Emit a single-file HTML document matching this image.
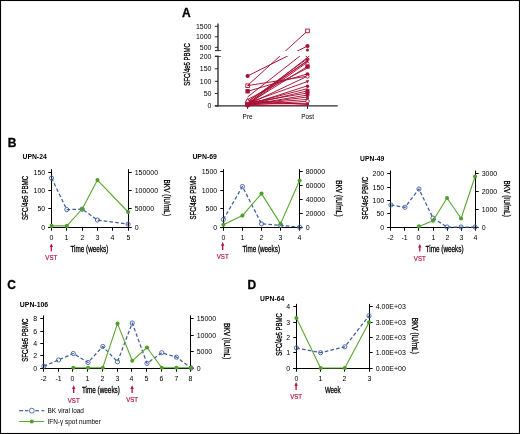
<!DOCTYPE html>
<html><head><meta charset="utf-8"><style>
html,body{margin:0;padding:0;background:#fff;}
body{width:520px;height:434px;overflow:hidden;}
svg{display:block;will-change:transform;}
text{font-family:"Liberation Sans", sans-serif;}
</style></head><body>
<svg width="520" height="434" viewBox="0 0 520 434" font-family='"Liberation Sans", sans-serif'>
<rect x="0" y="0" width="520" height="434" fill="#fff"/>
<rect x="0.5" y="0.5" width="519" height="433" fill="none" stroke="#000" stroke-width="1.1"/>
<text x="182" y="16.6" font-size="12" text-anchor="start" fill="#000" font-weight="bold" stroke="#000" stroke-width="0.3">A</text>
<text x="7.8" y="146.9" font-size="12" text-anchor="start" fill="#000" font-weight="bold" stroke="#000" stroke-width="0.3">B</text>
<text x="7.3" y="288.6" font-size="12" text-anchor="start" fill="#000" font-weight="bold" stroke="#000" stroke-width="0.3">C</text>
<text x="247.6" y="289.2" font-size="12" text-anchor="start" fill="#000" font-weight="bold" stroke="#000" stroke-width="0.3">D</text>
<line x1="218" y1="23.5" x2="218" y2="50.6" stroke="#2a2a2a" stroke-width="1.35" />
<line x1="215" y1="50.6" x2="221" y2="50.6" stroke="#2a2a2a" stroke-width="1.1" />
<line x1="218" y1="56.3" x2="218" y2="106.4" stroke="#2a2a2a" stroke-width="1.35" />
<line x1="215" y1="56.3" x2="221" y2="56.3" stroke="#2a2a2a" stroke-width="1.1" />
<line x1="214.8" y1="105.9" x2="337.7" y2="105.9" stroke="#2a2a2a" stroke-width="1.3" />
<line x1="214.8" y1="26.3" x2="218" y2="26.3" stroke="#2a2a2a" stroke-width="1" />
<text x="211.5" y="28.8" font-size="7" text-anchor="end" fill="#000" textLength="15.57" lengthAdjust="spacingAndGlyphs" >1500</text>
<line x1="214.8" y1="36.8" x2="218" y2="36.8" stroke="#2a2a2a" stroke-width="1" />
<text x="211.5" y="39.3" font-size="7" text-anchor="end" fill="#000" textLength="15.57" lengthAdjust="spacingAndGlyphs" >1000</text>
<line x1="214.8" y1="47.3" x2="218" y2="47.3" stroke="#2a2a2a" stroke-width="1" />
<text x="211.5" y="49.8" font-size="7" text-anchor="end" fill="#000" textLength="11.68" lengthAdjust="spacingAndGlyphs" >500</text>
<line x1="214.8" y1="56.3" x2="218" y2="56.3" stroke="#2a2a2a" stroke-width="1" />
<text x="211.5" y="58.8" font-size="7" text-anchor="end" fill="#000" textLength="11.68" lengthAdjust="spacingAndGlyphs" >200</text>
<line x1="214.8" y1="68.8" x2="218" y2="68.8" stroke="#2a2a2a" stroke-width="1" />
<text x="211.5" y="71.3" font-size="7" text-anchor="end" fill="#000" textLength="11.68" lengthAdjust="spacingAndGlyphs" >150</text>
<line x1="214.8" y1="81.3" x2="218" y2="81.3" stroke="#2a2a2a" stroke-width="1" />
<text x="211.5" y="83.8" font-size="7" text-anchor="end" fill="#000" textLength="11.68" lengthAdjust="spacingAndGlyphs" >100</text>
<line x1="214.8" y1="93.5" x2="218" y2="93.5" stroke="#2a2a2a" stroke-width="1" />
<text x="211.5" y="96" font-size="7" text-anchor="end" fill="#000" textLength="7.79" lengthAdjust="spacingAndGlyphs" >50</text>
<line x1="214.8" y1="105.9" x2="218" y2="105.9" stroke="#2a2a2a" stroke-width="1" />
<text x="211.5" y="108.4" font-size="7" text-anchor="end" fill="#000" textLength="3.89" lengthAdjust="spacingAndGlyphs" >0</text>
<line x1="247.6" y1="105.9" x2="247.6" y2="109" stroke="#2a2a2a" stroke-width="1" />
<line x1="307.5" y1="105.9" x2="307.5" y2="109" stroke="#2a2a2a" stroke-width="1" />
<text x="247.6" y="118.7" font-size="7" text-anchor="middle" fill="#000" textLength="10" lengthAdjust="spacingAndGlyphs" >Pre</text>
<text x="307.7" y="118.7" font-size="7" text-anchor="middle" fill="#000" textLength="12.8" lengthAdjust="spacingAndGlyphs" >Post</text>
<text x="189.9" y="64.4" font-size="9" text-anchor="middle" fill="#000" textLength="42.5" lengthAdjust="spacingAndGlyphs" transform="rotate(-90 189.9 64.4)" stroke="#000" stroke-width="0.3">SFC/4e5 PBMC</text>
<g>
<line x1="247.6" y1="85.5" x2="307.5" y2="30.9" stroke="#a80f35" stroke-width="0.95" />
<line x1="247.6" y1="76" x2="307.5" y2="46" stroke="#a80f35" stroke-width="0.95" />
<line x1="247.6" y1="97" x2="307.5" y2="50.1" stroke="#a80f35" stroke-width="0.95" />
<line x1="247.6" y1="104" x2="307.5" y2="57.5" stroke="#a80f35" stroke-width="0.95" />
<line x1="247.6" y1="102" x2="307.5" y2="58.6" stroke="#a80f35" stroke-width="0.95" />
<line x1="247.6" y1="103.5" x2="307.5" y2="60.5" stroke="#a80f35" stroke-width="0.95" />
<line x1="247.6" y1="101.5" x2="307.5" y2="61" stroke="#a80f35" stroke-width="0.95" />
<line x1="247.6" y1="104.5" x2="307.5" y2="62.2" stroke="#a80f35" stroke-width="0.95" />
<line x1="247.6" y1="104" x2="307.5" y2="66.4" stroke="#a80f35" stroke-width="0.95" />
<line x1="247.6" y1="99.5" x2="307.5" y2="68" stroke="#a80f35" stroke-width="0.95" />
<line x1="247.6" y1="91.3" x2="307.5" y2="73.9" stroke="#a80f35" stroke-width="0.95" />
<line x1="247.6" y1="104.5" x2="307.5" y2="76.2" stroke="#a80f35" stroke-width="0.95" />
<line x1="247.6" y1="85.6" x2="307.5" y2="76.2" stroke="#a80f35" stroke-width="0.95" />
<line x1="247.6" y1="103" x2="307.5" y2="81.5" stroke="#a80f35" stroke-width="0.95" />
<line x1="247.6" y1="105" x2="307.5" y2="85.8" stroke="#a80f35" stroke-width="0.95" />
<line x1="247.6" y1="104" x2="307.5" y2="88.6" stroke="#a80f35" stroke-width="0.95" />
<line x1="247.6" y1="105" x2="307.5" y2="90.8" stroke="#a80f35" stroke-width="0.95" />
<line x1="247.6" y1="103" x2="307.5" y2="93" stroke="#a80f35" stroke-width="0.95" />
<line x1="247.6" y1="105" x2="307.5" y2="95" stroke="#a80f35" stroke-width="0.95" />
<line x1="247.6" y1="104.5" x2="307.5" y2="97" stroke="#a80f35" stroke-width="0.95" />
<line x1="247.6" y1="104" x2="307.5" y2="99.4" stroke="#a80f35" stroke-width="0.95" />
<line x1="247.6" y1="105" x2="307.5" y2="101.3" stroke="#a80f35" stroke-width="0.95" />
<line x1="247.6" y1="104" x2="307.5" y2="103.3" stroke="#a80f35" stroke-width="0.95" />
<line x1="247.6" y1="105.5" x2="307.5" y2="105.2" stroke="#a80f35" stroke-width="0.95" />
<line x1="247.6" y1="100.5" x2="307.5" y2="104.5" stroke="#a80f35" stroke-width="0.95" />
</g>
<rect x="219.0" y="50.9" width="100" height="5.2" fill="#fff"/>
<circle cx="247.6" cy="76" r="2.1" fill="#a80f35"/>
<rect x="245.8" y="83.9" width="3.6" height="3.6" fill="none" stroke="#a80f35" stroke-width="0.9"/>
<rect x="245.9" y="89.6" width="3.4" height="3.4" fill="#a80f35" stroke="#a80f35" stroke-width="0.9"/>
<circle cx="247.6" cy="103.5" r="2.3" fill="#a80f35"/>
<rect x="245.8" y="102.7" width="3.6" height="3.6" fill="#a80f35" stroke="#a80f35" stroke-width="0.9"/>
<circle cx="247.6" cy="105.2" r="2.4" fill="#a80f35"/>
<path d="M245.3 102.3 L249.9 102.3 L247.6 98.4 Z" fill="#fff" stroke="#a80f35" stroke-width="1"/>
<rect x="305.7" y="29.1" width="3.6" height="3.6" fill="#fff" stroke="#a80f35" stroke-width="0.9"/>
<circle cx="307.5" cy="46" r="2.1" fill="#a80f35"/>
<circle cx="307.5" cy="50.1" r="1.5" fill="#a80f35"/>
<path d="M305.7 55.9 L309.3 59.5 M305.7 59.5 L309.3 55.9" stroke="#a80f35" stroke-width="1"/>
<path d="M305.5 58.6 L309.5 58.6 L307.5 62.2 Z" fill="#a80f35"/>
<path d="M305.9 60.2 L309.1 63.4 M305.9 63.4 L309.1 60.2" stroke="#a80f35" stroke-width="1"/>
<rect x="305.8" y="64.8" width="3.4" height="3.4" fill="#a80f35" stroke="#a80f35" stroke-width="0.9"/>
<circle cx="307.5" cy="74.2" r="2" fill="#a80f35"/>
<circle cx="307.5" cy="76.6" r="1.6" fill="#fff" stroke="#a80f35" stroke-width="0.9"/>
<path d="M305.7 80.36 L309.3 80.36 L307.5 83.6 Z" fill="#a80f35"/>
<circle cx="307.5" cy="86.2" r="1.7" fill="#a80f35"/>
<rect x="306" y="89.5" width="3" height="3" fill="#a80f35" stroke="#a80f35" stroke-width="0.9"/>
<rect x="306" y="92.1" width="3" height="3" fill="#a80f35" stroke="#a80f35" stroke-width="0.9"/>
<circle cx="307.5" cy="95.6" r="1.7" fill="#a80f35"/>
<circle cx="307.5" cy="101.2" r="1.8" fill="#fff" stroke="#a80f35" stroke-width="0.9"/>
<circle cx="307.5" cy="98" r="1.5" fill="#a80f35"/>
<circle cx="307.5" cy="104" r="1.6" fill="#a80f35"/>
<line x1="51.5" y1="169.2" x2="51.5" y2="228" stroke="#000" stroke-width="1" />
<line x1="128.5" y1="169.2" x2="128.5" y2="228" stroke="#000" stroke-width="1" />
<line x1="48.3" y1="227.5" x2="129" y2="227.5" stroke="#000" stroke-width="1" />
<line x1="48.3" y1="227.5" x2="51.5" y2="227.5" stroke="#000" stroke-width="1" />
<text x="45.2" y="230" font-size="7" text-anchor="end" fill="#000" textLength="3.89" lengthAdjust="spacingAndGlyphs" >0</text>
<line x1="48.3" y1="208.5" x2="51.5" y2="208.5" stroke="#000" stroke-width="1" />
<text x="45.2" y="211" font-size="7" text-anchor="end" fill="#000" textLength="7.79" lengthAdjust="spacingAndGlyphs" >50</text>
<line x1="48.3" y1="190.5" x2="51.5" y2="190.5" stroke="#000" stroke-width="1" />
<text x="45.2" y="193" font-size="7" text-anchor="end" fill="#000" textLength="11.68" lengthAdjust="spacingAndGlyphs" >100</text>
<line x1="48.3" y1="172.5" x2="51.5" y2="172.5" stroke="#000" stroke-width="1" />
<text x="45.2" y="175" font-size="7" text-anchor="end" fill="#000" textLength="11.68" lengthAdjust="spacingAndGlyphs" >150</text>
<line x1="128.5" y1="227.5" x2="131.7" y2="227.5" stroke="#000" stroke-width="1" />
<text x="134.7" y="230" font-size="7" text-anchor="start" fill="#000" textLength="3.89" lengthAdjust="spacingAndGlyphs" >0</text>
<line x1="128.5" y1="208.5" x2="131.7" y2="208.5" stroke="#000" stroke-width="1" />
<text x="134.7" y="211" font-size="7" text-anchor="start" fill="#000" textLength="19.47" lengthAdjust="spacingAndGlyphs" >50000</text>
<line x1="128.5" y1="190.5" x2="131.7" y2="190.5" stroke="#000" stroke-width="1" />
<text x="134.7" y="193" font-size="7" text-anchor="start" fill="#000" textLength="23.36" lengthAdjust="spacingAndGlyphs" >100000</text>
<line x1="128.5" y1="172.5" x2="131.7" y2="172.5" stroke="#000" stroke-width="1" />
<text x="134.7" y="175" font-size="7" text-anchor="start" fill="#000" textLength="23.36" lengthAdjust="spacingAndGlyphs" >150000</text>
<line x1="51.5" y1="227.5" x2="51.5" y2="230.7" stroke="#000" stroke-width="1" />
<text x="51.5" y="240.1" font-size="7" text-anchor="middle" fill="#000" textLength="3.89" lengthAdjust="spacingAndGlyphs" >0</text>
<line x1="66.5" y1="227.5" x2="66.5" y2="230.7" stroke="#000" stroke-width="1" />
<text x="66.5" y="240.1" font-size="7" text-anchor="middle" fill="#000" textLength="3.89" lengthAdjust="spacingAndGlyphs" >1</text>
<line x1="82.5" y1="227.5" x2="82.5" y2="230.7" stroke="#000" stroke-width="1" />
<text x="82.5" y="240.1" font-size="7" text-anchor="middle" fill="#000" textLength="3.89" lengthAdjust="spacingAndGlyphs" >2</text>
<line x1="97.5" y1="227.5" x2="97.5" y2="230.7" stroke="#000" stroke-width="1" />
<text x="97.5" y="240.1" font-size="7" text-anchor="middle" fill="#000" textLength="3.89" lengthAdjust="spacingAndGlyphs" >3</text>
<line x1="112.5" y1="227.5" x2="112.5" y2="230.7" stroke="#000" stroke-width="1" />
<text x="112.5" y="240.1" font-size="7" text-anchor="middle" fill="#000" textLength="3.89" lengthAdjust="spacingAndGlyphs" >4</text>
<line x1="128.5" y1="227.5" x2="128.5" y2="230.7" stroke="#000" stroke-width="1" />
<text x="128.5" y="240.1" font-size="7" text-anchor="middle" fill="#000" textLength="3.89" lengthAdjust="spacingAndGlyphs" >5</text>
<polyline points="51.5,178.1 66.82,209.6 82.14,209.2 97.46,220 128.1,224.2" fill="none" stroke="#3f5f9f" stroke-width="1.25" stroke-linejoin="round" stroke-dasharray="3.6 2.2"/>
<circle cx="51.5" cy="178.1" r="2.1" fill="none" stroke="#3f5f9f" stroke-width="0.9"/>
<circle cx="66.82" cy="209.6" r="2.1" fill="none" stroke="#3f5f9f" stroke-width="0.9"/>
<circle cx="82.14" cy="209.2" r="2.1" fill="none" stroke="#3f5f9f" stroke-width="0.9"/>
<circle cx="97.46" cy="220" r="2.1" fill="none" stroke="#3f5f9f" stroke-width="0.9"/>
<circle cx="128.1" cy="224.2" r="2.1" fill="none" stroke="#3f5f9f" stroke-width="0.9"/>
<polyline points="51.5,225.9 66.82,225.9 82.14,209 97.46,180.1 128.1,212" fill="none" stroke="#5aa630" stroke-width="1.1" stroke-linejoin="round" />
<circle cx="51.5" cy="225.9" r="2.05" fill="#4f9e2b"/>
<circle cx="66.82" cy="225.9" r="2.05" fill="#4f9e2b"/>
<circle cx="82.14" cy="209" r="2.05" fill="#4f9e2b"/>
<circle cx="97.46" cy="180.1" r="2.05" fill="#4f9e2b"/>
<circle cx="128.1" cy="212" r="2.05" fill="#4f9e2b"/>
<text x="27.6" y="197.9" font-size="9" text-anchor="middle" fill="#000" textLength="44.3" lengthAdjust="spacingAndGlyphs" transform="rotate(-90 27.6 197.9)" stroke="#000" stroke-width="0.3">SFC/4e5 PBMC</text>
<text x="164" y="197.8" font-size="9" text-anchor="middle" fill="#000" textLength="36.8" lengthAdjust="spacingAndGlyphs" transform="rotate(90 164 197.8)" stroke="#000" stroke-width="0.3">BKV (IU/mL)</text>
<text x="70.4" y="252.2" font-size="9" text-anchor="start" fill="#000" textLength="38" lengthAdjust="spacingAndGlyphs" stroke="#000" stroke-width="0.3">Time (weeks)</text>
<text x="22.5" y="159" font-size="7" text-anchor="start" fill="#000" font-weight="bold" textLength="24.2" lengthAdjust="spacingAndGlyphs" >UPN-24</text>
<path d="M51.3 251.3 L51.3 246" stroke="#b3123c" stroke-width="1.3"/>
<path d="M49.6 247.1 L51.3 243.5 L53 247.1 Z" fill="#b3123c"/>
<text x="51.3" y="260.4" font-size="7.6" text-anchor="middle" fill="#b3123c" textLength="11.9" lengthAdjust="spacingAndGlyphs" stroke="#b3123c" stroke-width="0.2">VST</text>
<line x1="223.5" y1="169.2" x2="223.5" y2="228" stroke="#000" stroke-width="1" />
<line x1="299.5" y1="169.2" x2="299.5" y2="228" stroke="#000" stroke-width="1" />
<line x1="220.3" y1="227.5" x2="300" y2="227.5" stroke="#000" stroke-width="1" />
<line x1="220.3" y1="227.5" x2="223.5" y2="227.5" stroke="#000" stroke-width="1" />
<text x="217.2" y="230" font-size="7" text-anchor="end" fill="#000" textLength="3.89" lengthAdjust="spacingAndGlyphs" >0</text>
<line x1="220.3" y1="208.5" x2="223.5" y2="208.5" stroke="#000" stroke-width="1" />
<text x="217.2" y="211" font-size="7" text-anchor="end" fill="#000" textLength="11.68" lengthAdjust="spacingAndGlyphs" >500</text>
<line x1="220.3" y1="190.5" x2="223.5" y2="190.5" stroke="#000" stroke-width="1" />
<text x="217.2" y="193" font-size="7" text-anchor="end" fill="#000" textLength="15.57" lengthAdjust="spacingAndGlyphs" >1000</text>
<line x1="220.3" y1="171.5" x2="223.5" y2="171.5" stroke="#000" stroke-width="1" />
<text x="217.2" y="174" font-size="7" text-anchor="end" fill="#000" textLength="15.57" lengthAdjust="spacingAndGlyphs" >1500</text>
<line x1="299.5" y1="227.5" x2="302.7" y2="227.5" stroke="#000" stroke-width="1" />
<text x="305.7" y="230" font-size="7" text-anchor="start" fill="#000" textLength="3.89" lengthAdjust="spacingAndGlyphs" >0</text>
<line x1="299.5" y1="213.5" x2="302.7" y2="213.5" stroke="#000" stroke-width="1" />
<text x="305.7" y="216" font-size="7" text-anchor="start" fill="#000" textLength="19.47" lengthAdjust="spacingAndGlyphs" >20000</text>
<line x1="299.5" y1="199.5" x2="302.7" y2="199.5" stroke="#000" stroke-width="1" />
<text x="305.7" y="202" font-size="7" text-anchor="start" fill="#000" textLength="19.47" lengthAdjust="spacingAndGlyphs" >40000</text>
<line x1="299.5" y1="185.5" x2="302.7" y2="185.5" stroke="#000" stroke-width="1" />
<text x="305.7" y="188" font-size="7" text-anchor="start" fill="#000" textLength="19.47" lengthAdjust="spacingAndGlyphs" >60000</text>
<line x1="299.5" y1="171.5" x2="302.7" y2="171.5" stroke="#000" stroke-width="1" />
<text x="305.7" y="174" font-size="7" text-anchor="start" fill="#000" textLength="19.47" lengthAdjust="spacingAndGlyphs" >80000</text>
<line x1="223.5" y1="227.5" x2="223.5" y2="230.7" stroke="#000" stroke-width="1" />
<text x="223.5" y="240.1" font-size="7" text-anchor="middle" fill="#000" textLength="3.89" lengthAdjust="spacingAndGlyphs" >0</text>
<line x1="242.5" y1="227.5" x2="242.5" y2="230.7" stroke="#000" stroke-width="1" />
<text x="242.5" y="240.1" font-size="7" text-anchor="middle" fill="#000" textLength="3.89" lengthAdjust="spacingAndGlyphs" >1</text>
<line x1="261.5" y1="227.5" x2="261.5" y2="230.7" stroke="#000" stroke-width="1" />
<text x="261.5" y="240.1" font-size="7" text-anchor="middle" fill="#000" textLength="3.89" lengthAdjust="spacingAndGlyphs" >2</text>
<line x1="280.5" y1="227.5" x2="280.5" y2="230.7" stroke="#000" stroke-width="1" />
<text x="280.5" y="240.1" font-size="7" text-anchor="middle" fill="#000" textLength="3.89" lengthAdjust="spacingAndGlyphs" >3</text>
<line x1="299.5" y1="227.5" x2="299.5" y2="230.7" stroke="#000" stroke-width="1" />
<text x="299.5" y="240.1" font-size="7" text-anchor="middle" fill="#000" textLength="3.89" lengthAdjust="spacingAndGlyphs" >4</text>
<polyline points="223.4,219.5 242.45,186.5 261.5,223.9 280.55,225.3 299.6,227.2" fill="none" stroke="#3f5f9f" stroke-width="1.25" stroke-linejoin="round" stroke-dasharray="3.6 2.2"/>
<circle cx="223.4" cy="219.5" r="2.1" fill="none" stroke="#3f5f9f" stroke-width="0.9"/>
<circle cx="242.45" cy="186.5" r="2.1" fill="none" stroke="#3f5f9f" stroke-width="0.9"/>
<circle cx="261.5" cy="223.9" r="2.1" fill="none" stroke="#3f5f9f" stroke-width="0.9"/>
<circle cx="280.55" cy="225.3" r="2.1" fill="none" stroke="#3f5f9f" stroke-width="0.9"/>
<circle cx="299.6" cy="227.2" r="2.1" fill="none" stroke="#3f5f9f" stroke-width="0.9"/>
<polyline points="223.4,224.7 242.45,215.6 261.5,193.6 280.55,223.9 299.6,180.5" fill="none" stroke="#5aa630" stroke-width="1.1" stroke-linejoin="round" />
<circle cx="223.4" cy="224.7" r="2.05" fill="#4f9e2b"/>
<circle cx="242.45" cy="215.6" r="2.05" fill="#4f9e2b"/>
<circle cx="261.5" cy="193.6" r="2.05" fill="#4f9e2b"/>
<circle cx="280.55" cy="223.9" r="2.05" fill="#4f9e2b"/>
<circle cx="299.6" cy="180.5" r="2.05" fill="#4f9e2b"/>
<text x="195.8" y="197.9" font-size="9" text-anchor="middle" fill="#000" textLength="43.4" lengthAdjust="spacingAndGlyphs" transform="rotate(-90 195.8 197.9)" stroke="#000" stroke-width="0.3">SFC/4e5 PBMC</text>
<text x="336.3" y="198.4" font-size="9" text-anchor="middle" fill="#000" textLength="36.5" lengthAdjust="spacingAndGlyphs" transform="rotate(90 336.3 198.4)" stroke="#000" stroke-width="0.3">BKV (IU/mL)</text>
<text x="242.5" y="252" font-size="9" text-anchor="start" fill="#000" textLength="37.5" lengthAdjust="spacingAndGlyphs" stroke="#000" stroke-width="0.3">Time (weeks)</text>
<text x="192.4" y="158.5" font-size="7" text-anchor="start" fill="#000" font-weight="bold" textLength="24.5" lengthAdjust="spacingAndGlyphs" >UPN-69</text>
<path d="M222.7 249.9 L222.7 244.6" stroke="#b3123c" stroke-width="1.3"/>
<path d="M221 245.7 L222.7 242.1 L224.4 245.7 Z" fill="#b3123c"/>
<text x="222.7" y="259" font-size="7.6" text-anchor="middle" fill="#b3123c" textLength="11.9" lengthAdjust="spacingAndGlyphs" stroke="#b3123c" stroke-width="0.2">VST</text>
<line x1="390.5" y1="170.5" x2="390.5" y2="228" stroke="#000" stroke-width="1" />
<line x1="475.5" y1="170.5" x2="475.5" y2="228" stroke="#000" stroke-width="1" />
<line x1="387.3" y1="227.5" x2="476" y2="227.5" stroke="#000" stroke-width="1" />
<line x1="387.3" y1="227.5" x2="390.5" y2="227.5" stroke="#000" stroke-width="1" />
<text x="384.2" y="230" font-size="7" text-anchor="end" fill="#000" textLength="3.89" lengthAdjust="spacingAndGlyphs" >0</text>
<line x1="387.3" y1="213.5" x2="390.5" y2="213.5" stroke="#000" stroke-width="1" />
<text x="384.2" y="216" font-size="7" text-anchor="end" fill="#000" textLength="7.79" lengthAdjust="spacingAndGlyphs" >50</text>
<line x1="387.3" y1="200.5" x2="390.5" y2="200.5" stroke="#000" stroke-width="1" />
<text x="384.2" y="203" font-size="7" text-anchor="end" fill="#000" textLength="11.68" lengthAdjust="spacingAndGlyphs" >100</text>
<line x1="387.3" y1="187.5" x2="390.5" y2="187.5" stroke="#000" stroke-width="1" />
<text x="384.2" y="190" font-size="7" text-anchor="end" fill="#000" textLength="11.68" lengthAdjust="spacingAndGlyphs" >150</text>
<line x1="387.3" y1="173.5" x2="390.5" y2="173.5" stroke="#000" stroke-width="1" />
<text x="384.2" y="176" font-size="7" text-anchor="end" fill="#000" textLength="11.68" lengthAdjust="spacingAndGlyphs" >200</text>
<line x1="475.5" y1="227.5" x2="478.7" y2="227.5" stroke="#000" stroke-width="1" />
<text x="481.7" y="230" font-size="7" text-anchor="start" fill="#000" textLength="3.89" lengthAdjust="spacingAndGlyphs" >0</text>
<line x1="475.5" y1="209.5" x2="478.7" y2="209.5" stroke="#000" stroke-width="1" />
<text x="481.7" y="212" font-size="7" text-anchor="start" fill="#000" textLength="15.57" lengthAdjust="spacingAndGlyphs" >1000</text>
<line x1="475.5" y1="191.5" x2="478.7" y2="191.5" stroke="#000" stroke-width="1" />
<text x="481.7" y="194" font-size="7" text-anchor="start" fill="#000" textLength="15.57" lengthAdjust="spacingAndGlyphs" >2000</text>
<line x1="475.5" y1="173.5" x2="478.7" y2="173.5" stroke="#000" stroke-width="1" />
<text x="481.7" y="176" font-size="7" text-anchor="start" fill="#000" textLength="15.57" lengthAdjust="spacingAndGlyphs" >3000</text>
<line x1="390.5" y1="227.5" x2="390.5" y2="230.7" stroke="#000" stroke-width="1" />
<text x="390.5" y="240.1" font-size="7" text-anchor="middle" fill="#000" textLength="6.22" lengthAdjust="spacingAndGlyphs" >-2</text>
<line x1="404.5" y1="227.5" x2="404.5" y2="230.7" stroke="#000" stroke-width="1" />
<text x="404.5" y="240.1" font-size="7" text-anchor="middle" fill="#000" textLength="6.22" lengthAdjust="spacingAndGlyphs" >-1</text>
<line x1="418.5" y1="227.5" x2="418.5" y2="230.7" stroke="#000" stroke-width="1" />
<text x="418.5" y="240.1" font-size="7" text-anchor="middle" fill="#000" textLength="3.89" lengthAdjust="spacingAndGlyphs" >0</text>
<line x1="433.5" y1="227.5" x2="433.5" y2="230.7" stroke="#000" stroke-width="1" />
<text x="433.5" y="240.1" font-size="7" text-anchor="middle" fill="#000" textLength="3.89" lengthAdjust="spacingAndGlyphs" >1</text>
<line x1="447.5" y1="227.5" x2="447.5" y2="230.7" stroke="#000" stroke-width="1" />
<text x="447.5" y="240.1" font-size="7" text-anchor="middle" fill="#000" textLength="3.89" lengthAdjust="spacingAndGlyphs" >2</text>
<line x1="461.5" y1="227.5" x2="461.5" y2="230.7" stroke="#000" stroke-width="1" />
<text x="461.5" y="240.1" font-size="7" text-anchor="middle" fill="#000" textLength="3.89" lengthAdjust="spacingAndGlyphs" >3</text>
<line x1="475.5" y1="227.5" x2="475.5" y2="230.7" stroke="#000" stroke-width="1" />
<text x="475.5" y="240.1" font-size="7" text-anchor="middle" fill="#000" textLength="3.89" lengthAdjust="spacingAndGlyphs" >4</text>
<polyline points="390.9,205 404.93,207.3 418.97,189 433,218.1 447.03,227 461.07,227 475.1,227" fill="none" stroke="#3f5f9f" stroke-width="1.25" stroke-linejoin="round" stroke-dasharray="3.6 2.2"/>
<circle cx="390.9" cy="205" r="2.1" fill="none" stroke="#3f5f9f" stroke-width="0.9"/>
<circle cx="404.93" cy="207.3" r="2.1" fill="none" stroke="#3f5f9f" stroke-width="0.9"/>
<circle cx="418.97" cy="189" r="2.1" fill="none" stroke="#3f5f9f" stroke-width="0.9"/>
<circle cx="433" cy="218.1" r="2.1" fill="none" stroke="#3f5f9f" stroke-width="0.9"/>
<circle cx="447.03" cy="227" r="2.1" fill="none" stroke="#3f5f9f" stroke-width="0.9"/>
<circle cx="461.07" cy="227" r="2.1" fill="none" stroke="#3f5f9f" stroke-width="0.9"/>
<circle cx="475.1" cy="227" r="2.1" fill="none" stroke="#3f5f9f" stroke-width="0.9"/>
<polyline points="418.97,226.4 433,220.8 447.03,198 461.07,218.5 475.1,176.5" fill="none" stroke="#5aa630" stroke-width="1.1" stroke-linejoin="round" />
<circle cx="418.97" cy="226.4" r="2.05" fill="#4f9e2b"/>
<circle cx="433" cy="220.8" r="2.05" fill="#4f9e2b"/>
<circle cx="447.03" cy="198" r="2.05" fill="#4f9e2b"/>
<circle cx="461.07" cy="218.5" r="2.05" fill="#4f9e2b"/>
<circle cx="475.1" cy="176.5" r="2.05" fill="#4f9e2b"/>
<text x="367.6" y="198.1" font-size="9" text-anchor="middle" fill="#000" textLength="42.6" lengthAdjust="spacingAndGlyphs" transform="rotate(-90 367.6 198.1)" stroke="#000" stroke-width="0.3">SFC/4e5 PBMC</text>
<text x="503.5" y="198.6" font-size="9" text-anchor="middle" fill="#000" textLength="36.4" lengthAdjust="spacingAndGlyphs" transform="rotate(90 503.5 198.6)" stroke="#000" stroke-width="0.3">BKV (IU/mL)</text>
<text x="425.6" y="252.2" font-size="9" text-anchor="start" fill="#000" textLength="38" lengthAdjust="spacingAndGlyphs" stroke="#000" stroke-width="0.3">Time (weeks)</text>
<text x="360.1" y="161" font-size="7" text-anchor="start" fill="#000" font-weight="bold" textLength="24.1" lengthAdjust="spacingAndGlyphs" >UPN-49</text>
<path d="M419.8 251.6 L419.8 246.5" stroke="#b3123c" stroke-width="1.3"/>
<path d="M418.1 247.6 L419.8 244 L421.5 247.6 Z" fill="#b3123c"/>
<text x="419.8" y="260.7" font-size="7.6" text-anchor="middle" fill="#b3123c" textLength="11.9" lengthAdjust="spacingAndGlyphs" stroke="#b3123c" stroke-width="0.2">VST</text>
<line x1="43.5" y1="315.4" x2="43.5" y2="369" stroke="#000" stroke-width="1" />
<line x1="190.5" y1="315.4" x2="190.5" y2="369" stroke="#000" stroke-width="1" />
<line x1="40.3" y1="368.5" x2="191" y2="368.5" stroke="#000" stroke-width="1" />
<line x1="40.3" y1="368.5" x2="43.5" y2="368.5" stroke="#000" stroke-width="1" />
<text x="37.2" y="371" font-size="7" text-anchor="end" fill="#000" textLength="3.89" lengthAdjust="spacingAndGlyphs" >0</text>
<line x1="40.3" y1="355.5" x2="43.5" y2="355.5" stroke="#000" stroke-width="1" />
<text x="37.2" y="358" font-size="7" text-anchor="end" fill="#000" textLength="3.89" lengthAdjust="spacingAndGlyphs" >2</text>
<line x1="40.3" y1="343.5" x2="43.5" y2="343.5" stroke="#000" stroke-width="1" />
<text x="37.2" y="346" font-size="7" text-anchor="end" fill="#000" textLength="3.89" lengthAdjust="spacingAndGlyphs" >4</text>
<line x1="40.3" y1="331.5" x2="43.5" y2="331.5" stroke="#000" stroke-width="1" />
<text x="37.2" y="334" font-size="7" text-anchor="end" fill="#000" textLength="3.89" lengthAdjust="spacingAndGlyphs" >6</text>
<line x1="40.3" y1="318.5" x2="43.5" y2="318.5" stroke="#000" stroke-width="1" />
<text x="37.2" y="321" font-size="7" text-anchor="end" fill="#000" textLength="3.89" lengthAdjust="spacingAndGlyphs" >8</text>
<line x1="190.5" y1="368.5" x2="193.7" y2="368.5" stroke="#000" stroke-width="1" />
<text x="196.7" y="371" font-size="7" text-anchor="start" fill="#000" textLength="3.89" lengthAdjust="spacingAndGlyphs" >0</text>
<line x1="190.5" y1="351.5" x2="193.7" y2="351.5" stroke="#000" stroke-width="1" />
<text x="196.7" y="354" font-size="7" text-anchor="start" fill="#000" textLength="15.57" lengthAdjust="spacingAndGlyphs" >5000</text>
<line x1="190.5" y1="335.5" x2="193.7" y2="335.5" stroke="#000" stroke-width="1" />
<text x="196.7" y="338" font-size="7" text-anchor="start" fill="#000" textLength="19.47" lengthAdjust="spacingAndGlyphs" >10000</text>
<line x1="190.5" y1="318.5" x2="193.7" y2="318.5" stroke="#000" stroke-width="1" />
<text x="196.7" y="321" font-size="7" text-anchor="start" fill="#000" textLength="19.47" lengthAdjust="spacingAndGlyphs" >15000</text>
<line x1="43.5" y1="368.5" x2="43.5" y2="371.7" stroke="#000" stroke-width="1" />
<text x="43.5" y="381.1" font-size="7" text-anchor="middle" fill="#000" textLength="6.22" lengthAdjust="spacingAndGlyphs" >-2</text>
<line x1="58.5" y1="368.5" x2="58.5" y2="371.7" stroke="#000" stroke-width="1" />
<text x="58.5" y="381.1" font-size="7" text-anchor="middle" fill="#000" textLength="6.22" lengthAdjust="spacingAndGlyphs" >-1</text>
<line x1="72.5" y1="368.5" x2="72.5" y2="371.7" stroke="#000" stroke-width="1" />
<text x="72.5" y="381.1" font-size="7" text-anchor="middle" fill="#000" textLength="3.89" lengthAdjust="spacingAndGlyphs" >0</text>
<line x1="87.5" y1="368.5" x2="87.5" y2="371.7" stroke="#000" stroke-width="1" />
<text x="87.5" y="381.1" font-size="7" text-anchor="middle" fill="#000" textLength="3.89" lengthAdjust="spacingAndGlyphs" >1</text>
<line x1="102.5" y1="368.5" x2="102.5" y2="371.7" stroke="#000" stroke-width="1" />
<text x="102.5" y="381.1" font-size="7" text-anchor="middle" fill="#000" textLength="3.89" lengthAdjust="spacingAndGlyphs" >2</text>
<line x1="117.5" y1="368.5" x2="117.5" y2="371.7" stroke="#000" stroke-width="1" />
<text x="117.5" y="381.1" font-size="7" text-anchor="middle" fill="#000" textLength="3.89" lengthAdjust="spacingAndGlyphs" >3</text>
<line x1="131.5" y1="368.5" x2="131.5" y2="371.7" stroke="#000" stroke-width="1" />
<text x="131.5" y="381.1" font-size="7" text-anchor="middle" fill="#000" textLength="3.89" lengthAdjust="spacingAndGlyphs" >4</text>
<line x1="146.5" y1="368.5" x2="146.5" y2="371.7" stroke="#000" stroke-width="1" />
<text x="146.5" y="381.1" font-size="7" text-anchor="middle" fill="#000" textLength="3.89" lengthAdjust="spacingAndGlyphs" >5</text>
<line x1="161.5" y1="368.5" x2="161.5" y2="371.7" stroke="#000" stroke-width="1" />
<text x="161.5" y="381.1" font-size="7" text-anchor="middle" fill="#000" textLength="3.89" lengthAdjust="spacingAndGlyphs" >6</text>
<line x1="176.5" y1="368.5" x2="176.5" y2="371.7" stroke="#000" stroke-width="1" />
<text x="176.5" y="381.1" font-size="7" text-anchor="middle" fill="#000" textLength="3.89" lengthAdjust="spacingAndGlyphs" >7</text>
<line x1="190.5" y1="368.5" x2="190.5" y2="371.7" stroke="#000" stroke-width="1" />
<text x="190.5" y="381.1" font-size="7" text-anchor="middle" fill="#000" textLength="3.89" lengthAdjust="spacingAndGlyphs" >8</text>
<polyline points="43.8,366.2 58.54,360 73.28,353.5 88.02,362.5 102.76,346.5 117.5,361.8 132.24,323 146.98,363.4 161.72,352.7 176.46,357.2 191.2,368" fill="none" stroke="#3f5f9f" stroke-width="1.25" stroke-linejoin="round" stroke-dasharray="3.6 2.2"/>
<circle cx="43.8" cy="366.2" r="2.1" fill="none" stroke="#3f5f9f" stroke-width="0.9"/>
<circle cx="58.54" cy="360" r="2.1" fill="none" stroke="#3f5f9f" stroke-width="0.9"/>
<circle cx="73.28" cy="353.5" r="2.1" fill="none" stroke="#3f5f9f" stroke-width="0.9"/>
<circle cx="88.02" cy="362.5" r="2.1" fill="none" stroke="#3f5f9f" stroke-width="0.9"/>
<circle cx="102.76" cy="346.5" r="2.1" fill="none" stroke="#3f5f9f" stroke-width="0.9"/>
<circle cx="117.5" cy="361.8" r="2.1" fill="none" stroke="#3f5f9f" stroke-width="0.9"/>
<circle cx="132.24" cy="323" r="2.1" fill="none" stroke="#3f5f9f" stroke-width="0.9"/>
<circle cx="146.98" cy="363.4" r="2.1" fill="none" stroke="#3f5f9f" stroke-width="0.9"/>
<circle cx="161.72" cy="352.7" r="2.1" fill="none" stroke="#3f5f9f" stroke-width="0.9"/>
<circle cx="176.46" cy="357.2" r="2.1" fill="none" stroke="#3f5f9f" stroke-width="0.9"/>
<circle cx="191.2" cy="368" r="2.1" fill="none" stroke="#3f5f9f" stroke-width="0.9"/>
<polyline points="73.28,367.7 88.02,367.7 102.76,367.7 117.5,323.6 132.24,360.8 146.98,347.5 161.72,367.7 176.46,367.7 191.2,367.7" fill="none" stroke="#5aa630" stroke-width="1.1" stroke-linejoin="round" />
<circle cx="73.28" cy="367.7" r="2.05" fill="#4f9e2b"/>
<circle cx="88.02" cy="367.7" r="2.05" fill="#4f9e2b"/>
<circle cx="102.76" cy="367.7" r="2.05" fill="#4f9e2b"/>
<circle cx="117.5" cy="323.6" r="2.05" fill="#4f9e2b"/>
<circle cx="132.24" cy="360.8" r="2.05" fill="#4f9e2b"/>
<circle cx="146.98" cy="347.5" r="2.05" fill="#4f9e2b"/>
<circle cx="161.72" cy="367.7" r="2.05" fill="#4f9e2b"/>
<circle cx="176.46" cy="367.7" r="2.05" fill="#4f9e2b"/>
<circle cx="191.2" cy="367.7" r="2.05" fill="#4f9e2b"/>
<text x="28.2" y="340.2" font-size="9" text-anchor="middle" fill="#000" textLength="43" lengthAdjust="spacingAndGlyphs" transform="rotate(-90 28.2 340.2)" stroke="#000" stroke-width="0.3">SFC/4e5 PBMC</text>
<text x="223.6" y="341.2" font-size="9" text-anchor="middle" fill="#000" textLength="36.3" lengthAdjust="spacingAndGlyphs" transform="rotate(90 223.6 341.2)" stroke="#000" stroke-width="0.3">BKV (IU/mL)</text>
<text x="81.9" y="392.6" font-size="9" text-anchor="start" fill="#000" textLength="38" lengthAdjust="spacingAndGlyphs" stroke="#000" stroke-width="0.3">Time (weeks)</text>
<text x="19.8" y="307.3" font-size="7" text-anchor="start" fill="#000" font-weight="bold" textLength="28.4" lengthAdjust="spacingAndGlyphs" >UPN-106</text>
<path d="M73.7 393 L73.7 387.8" stroke="#b3123c" stroke-width="1.3"/>
<path d="M72 388.9 L73.7 385.3 L75.4 388.9 Z" fill="#b3123c"/>
<text x="73.7" y="402.6" font-size="7.6" text-anchor="middle" fill="#b3123c" textLength="11.9" lengthAdjust="spacingAndGlyphs" stroke="#b3123c" stroke-width="0.2">VST</text>
<path d="M132.1 393 L132.1 387.8" stroke="#b3123c" stroke-width="1.3"/>
<path d="M130.4 388.9 L132.1 385.3 L133.8 388.9 Z" fill="#b3123c"/>
<text x="132.1" y="402.4" font-size="7.6" text-anchor="middle" fill="#b3123c" textLength="11.9" lengthAdjust="spacingAndGlyphs" stroke="#b3123c" stroke-width="0.2">VST</text>
<line x1="296.5" y1="303.9" x2="296.5" y2="369" stroke="#000" stroke-width="1" />
<line x1="369.5" y1="303.9" x2="369.5" y2="369" stroke="#000" stroke-width="1" />
<line x1="293.3" y1="368.5" x2="370" y2="368.5" stroke="#000" stroke-width="1" />
<line x1="293.3" y1="368.5" x2="296.5" y2="368.5" stroke="#000" stroke-width="1" />
<text x="290.2" y="371" font-size="7" text-anchor="end" fill="#000" textLength="3.89" lengthAdjust="spacingAndGlyphs" >0</text>
<line x1="293.3" y1="352.5" x2="296.5" y2="352.5" stroke="#000" stroke-width="1" />
<text x="290.2" y="355" font-size="7" text-anchor="end" fill="#000" textLength="3.89" lengthAdjust="spacingAndGlyphs" >1</text>
<line x1="293.3" y1="337.5" x2="296.5" y2="337.5" stroke="#000" stroke-width="1" />
<text x="290.2" y="340" font-size="7" text-anchor="end" fill="#000" textLength="3.89" lengthAdjust="spacingAndGlyphs" >2</text>
<line x1="293.3" y1="322.5" x2="296.5" y2="322.5" stroke="#000" stroke-width="1" />
<text x="290.2" y="325" font-size="7" text-anchor="end" fill="#000" textLength="3.89" lengthAdjust="spacingAndGlyphs" >3</text>
<line x1="293.3" y1="306.5" x2="296.5" y2="306.5" stroke="#000" stroke-width="1" />
<text x="290.2" y="309" font-size="7" text-anchor="end" fill="#000" textLength="3.89" lengthAdjust="spacingAndGlyphs" >4</text>
<line x1="369.5" y1="368.5" x2="372.7" y2="368.5" stroke="#000" stroke-width="1" />
<text x="375.7" y="371" font-size="7" text-anchor="start" fill="#000" textLength="30.17" lengthAdjust="spacingAndGlyphs" >0.00E+00</text>
<line x1="369.5" y1="352.5" x2="372.7" y2="352.5" stroke="#000" stroke-width="1" />
<text x="375.7" y="355" font-size="7" text-anchor="start" fill="#000" textLength="30.17" lengthAdjust="spacingAndGlyphs" >1.00E+03</text>
<line x1="369.5" y1="337.5" x2="372.7" y2="337.5" stroke="#000" stroke-width="1" />
<text x="375.7" y="340" font-size="7" text-anchor="start" fill="#000" textLength="30.17" lengthAdjust="spacingAndGlyphs" >2.00E+03</text>
<line x1="369.5" y1="322.5" x2="372.7" y2="322.5" stroke="#000" stroke-width="1" />
<text x="375.7" y="325" font-size="7" text-anchor="start" fill="#000" textLength="30.17" lengthAdjust="spacingAndGlyphs" >3.00E+03</text>
<line x1="369.5" y1="306.5" x2="372.7" y2="306.5" stroke="#000" stroke-width="1" />
<text x="375.7" y="309" font-size="7" text-anchor="start" fill="#000" textLength="30.17" lengthAdjust="spacingAndGlyphs" >4.00E+03</text>
<line x1="296.5" y1="368.5" x2="296.5" y2="371.7" stroke="#000" stroke-width="1" />
<text x="296.5" y="381.1" font-size="7" text-anchor="middle" fill="#000" textLength="3.89" lengthAdjust="spacingAndGlyphs" >0</text>
<line x1="320.5" y1="368.5" x2="320.5" y2="371.7" stroke="#000" stroke-width="1" />
<text x="320.5" y="381.1" font-size="7" text-anchor="middle" fill="#000" textLength="3.89" lengthAdjust="spacingAndGlyphs" >1</text>
<line x1="344.5" y1="368.5" x2="344.5" y2="371.7" stroke="#000" stroke-width="1" />
<text x="344.5" y="381.1" font-size="7" text-anchor="middle" fill="#000" textLength="3.89" lengthAdjust="spacingAndGlyphs" >2</text>
<line x1="369.5" y1="368.5" x2="369.5" y2="371.7" stroke="#000" stroke-width="1" />
<text x="369.5" y="381.1" font-size="7" text-anchor="middle" fill="#000" textLength="3.89" lengthAdjust="spacingAndGlyphs" >3</text>
<polyline points="296.4,347.9 320.6,352.7 344.8,346.8 369,315.8" fill="none" stroke="#3f5f9f" stroke-width="1.25" stroke-linejoin="round" stroke-dasharray="3.6 2.2"/>
<circle cx="296.4" cy="347.9" r="2.1" fill="none" stroke="#3f5f9f" stroke-width="0.9"/>
<circle cx="320.6" cy="352.7" r="2.1" fill="none" stroke="#3f5f9f" stroke-width="0.9"/>
<circle cx="344.8" cy="346.8" r="2.1" fill="none" stroke="#3f5f9f" stroke-width="0.9"/>
<circle cx="369" cy="315.8" r="2.1" fill="none" stroke="#3f5f9f" stroke-width="0.9"/>
<polyline points="296.4,318 320.6,368 344.8,368 369,322.4" fill="none" stroke="#5aa630" stroke-width="1.1" stroke-linejoin="round" />
<circle cx="296.4" cy="318" r="2.05" fill="#4f9e2b"/>
<circle cx="320.6" cy="368" r="2.05" fill="#4f9e2b"/>
<circle cx="344.8" cy="368" r="2.05" fill="#4f9e2b"/>
<circle cx="369" cy="322.4" r="2.05" fill="#4f9e2b"/>
<text x="282.2" y="334.5" font-size="9" text-anchor="middle" fill="#000" textLength="42.4" lengthAdjust="spacingAndGlyphs" transform="rotate(-90 282.2 334.5)" stroke="#000" stroke-width="0.3">SFC/4e5 PBMC</text>
<text x="411.8" y="335.8" font-size="9" text-anchor="middle" fill="#000" textLength="36" lengthAdjust="spacingAndGlyphs" transform="rotate(90 411.8 335.8)" stroke="#000" stroke-width="0.3">BKV (IU/mL)</text>
<text x="324.9" y="393" font-size="9" text-anchor="start" fill="#000" textLength="15.7" lengthAdjust="spacingAndGlyphs" stroke="#000" stroke-width="0.3">Week</text>
<text x="260.1" y="301.3" font-size="7" text-anchor="start" fill="#000" font-weight="bold" textLength="24.1" lengthAdjust="spacingAndGlyphs" >UPN-64</text>
<path d="M296.1 389.9 L296.1 384.6" stroke="#b3123c" stroke-width="1.3"/>
<path d="M294.4 385.7 L296.1 382.1 L297.8 385.7 Z" fill="#b3123c"/>
<text x="296.1" y="399.3" font-size="7.6" text-anchor="middle" fill="#b3123c" textLength="11.9" lengthAdjust="spacingAndGlyphs" stroke="#b3123c" stroke-width="0.2">VST</text>
<line x1="19.1" y1="410.7" x2="23.1" y2="410.7" stroke="#3f5f9f" stroke-width="1.2" />
<line x1="25" y1="410.7" x2="28.4" y2="410.7" stroke="#3f5f9f" stroke-width="1.2" />
<line x1="35.3" y1="410.7" x2="39" y2="410.7" stroke="#3f5f9f" stroke-width="1.2" />
<line x1="41.4" y1="410.7" x2="44.2" y2="410.7" stroke="#3f5f9f" stroke-width="1.2" />
<circle cx="31.8" cy="410.7" r="2.45" fill="#fff" stroke="#3f5f9f" stroke-width="0.85"/>
<line x1="19.1" y1="421.5" x2="44.2" y2="421.5" stroke="#5aa630" stroke-width="0.95" />
<circle cx="31.8" cy="421.5" r="2.1" fill="#4f9e2b"/>
<text x="47.5" y="413" font-size="6.6" text-anchor="start" fill="#000" textLength="36.5" lengthAdjust="spacingAndGlyphs" >BK viral load</text>
<text x="47.5" y="424.1" font-size="6.6" text-anchor="start" fill="#000" textLength="53.3" lengthAdjust="spacingAndGlyphs" >IFN-γ spot number</text>
</svg>
</body></html>
